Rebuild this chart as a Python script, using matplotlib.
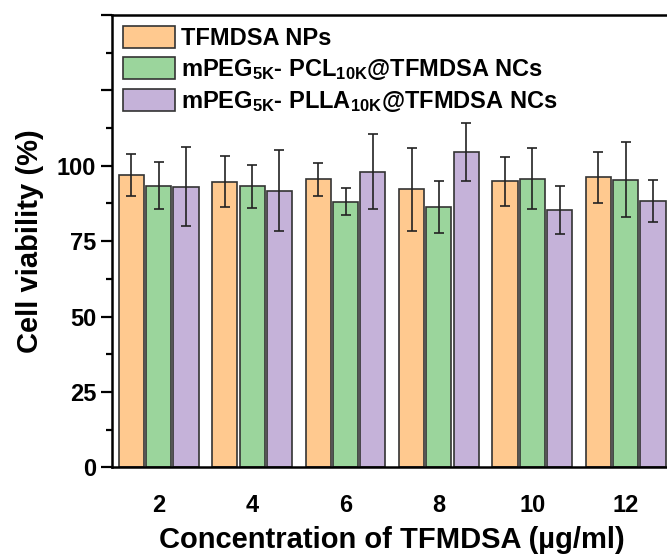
import numpy as np
import matplotlib
matplotlib.use("Agg")
import matplotlib.pyplot as plt

plt.rcParams['font.family'] = ['Liberation Sans', 'DejaVu Sans']
plt.rcParams['font.weight'] = 'bold'
plt.rcParams['mathtext.fontset'] = 'custom'
plt.rcParams['mathtext.rm'] = 'Liberation Sans:bold'
plt.rcParams['mathtext.default'] = 'rm'

# ----- data -----
conc = np.array([2, 4, 6, 8, 10, 12])

np_mean = np.array([96.9, 94.7, 95.5, 92.2, 94.8, 96.1])
np_err = np.array([7.1, 8.5, 5.4, 13.8, 8.1, 8.5])

pcl_mean = np.array([93.4, 93.2, 88.1, 86.4, 95.7, 95.4])
pcl_err = np.array([7.9, 7.1, 4.4, 8.6, 10.2, 12.5])

plla_mean = np.array([93.0, 91.7, 98.0, 104.7, 85.3, 88.3])
plla_err = np.array([13.1, 13.4, 12.5, 9.6, 8.1, 7.0])

labels = ['TFMDSA NPs',
          r'mPEG$_{5K}$- PCL$_{10K}$@TFMDSA NCs',
          r'mPEG$_{5K}$- PLLA$_{10K}$@TFMDSA NCs']
colors = ['#FFC98F', '#9BD59C', '#C5B2D9']

# ----- plot -----
fig = plt.figure(figsize=(6.67, 5.54), dpi=100)
ax = fig.add_axes([0.168, 0.1565, 0.840, 0.8165])

offset = 0.585
width = 0.54
series = [(np_mean, np_err), (pcl_mean, pcl_err), (plla_mean, plla_err)]
for i, (m, e) in enumerate(series):
    ax.bar(conc + (i - 1) * offset, m, width=width, color=colors[i],
           edgecolor='#333333', linewidth=1.2, label=labels[i],
           yerr=e, capsize=3.3,
           error_kw=dict(ecolor='#222222', elinewidth=1.2, capthick=1.2))

ax.set_xlim(1, 13)
ax.set_ylim(0, 150)
ax.set_xticks(conc)
ax.set_yticks([0, 25, 50, 75, 100, 125, 150])
ax.set_yticklabels(['0', '25', '50', '75', '100', '', ''])
ax.set_yticks(np.arange(12.5, 150, 25), minor=True)

ax.tick_params(axis='x', length=0, labelsize=17, pad=19)
ax.tick_params(axis='y', which='major', length=8, width=1.6, labelsize=17, direction='out')
ax.tick_params(axis='y', which='minor', length=4, width=1.6, direction='out')
for s in ax.spines.values():
    s.set_linewidth(1.8)

ax.set_xlabel('Concentration of TFMDSA (µg/ml)', fontsize=21, fontweight='bold', labelpad=7)
ax.set_ylabel('Cell viability (%)', fontsize=21, fontweight='bold', labelpad=9)

ax.legend(loc='upper left', frameon=False, fontsize=17, handlelength=2.2,
          handleheight=1.1, handletextpad=0.25, labelspacing=0.28,
          borderaxespad=0.3, borderpad=0.15)

fig.savefig('out.png', dpi=100)
